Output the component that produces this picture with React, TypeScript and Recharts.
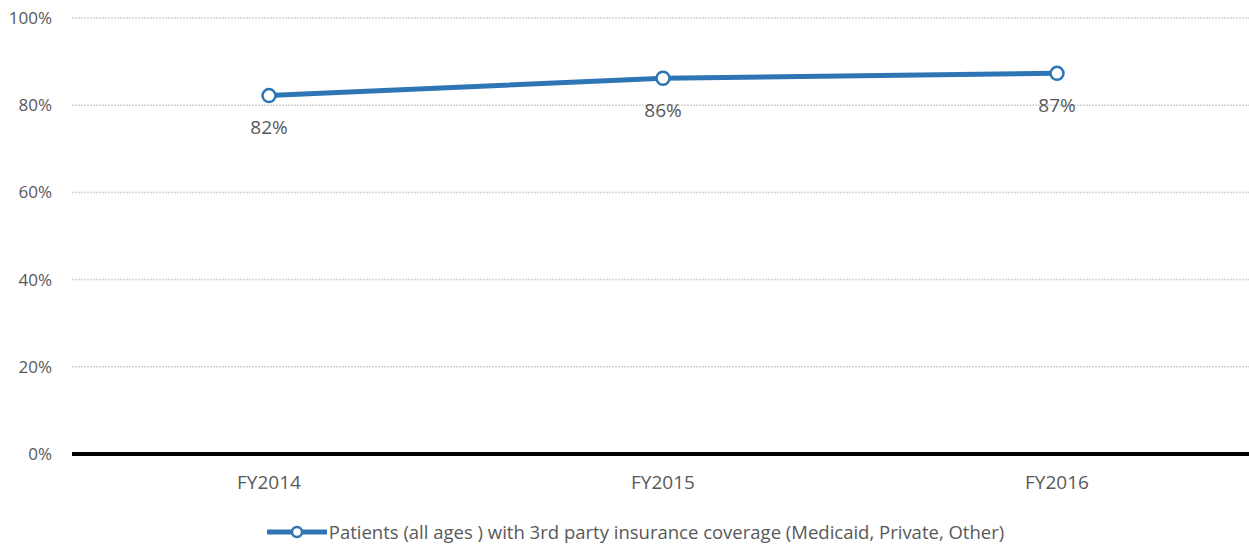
import React from 'react';
import { LineChart, Line, XAxis, YAxis, CartesianGrid, LabelList } from 'recharts';

const years = ['FY2014', 'FY2015', 'FY2016'];
const coverage = [82.2, 86.2, 87.3];
const yTicks = [0, 20, 40, 60, 80, 100];
const seriesName = 'Patients (all ages ) with 3rd party insurance coverage (Medicaid, Private, Other)';

const data = years.map((year, i) => ({ year, coverage: coverage[i] }));

const BLUE = '#2E75B6';
const TEXT = '#595959';
const FONT = '"Open Sans", sans-serif';

const LegendRow = () => (
  <div
    style={{
      position: 'absolute',
      left: 0,
      top: 519,
      width: 1249,
      display: 'flex',
      justifyContent: 'center',
      alignItems: 'center',
      fontFamily: FONT,
      fontSize: 18.5,
      color: TEXT,
    }}
  >
    <svg width={60} height={14} style={{ marginRight: 2, marginLeft: 22 }}>
      <line x1={1} y1={7} x2={59} y2={7} stroke={BLUE} strokeWidth={5} strokeLinecap="round" />
      <circle cx={30} cy={7} r={5} fill="#fff" stroke={BLUE} strokeWidth={2.5} />
    </svg>
    <span>{seriesName}</span>
  </div>
);

export default function App() {
  return (
    <div style={{ position: 'absolute', left: 0, top: 0, width: 1249, height: 546, background: '#fff' }}>
      <LineChart
        width={1249}
        height={546}
        data={data}
        margin={{ top: 18, right: -5, bottom: 62, left: 0 }}
      >
        <CartesianGrid
          vertical={false}
          stroke="#d4d4d4"
          strokeDasharray="2 1"
          strokeWidth={1.5}
        />
        <XAxis
          dataKey="year"
          scale="band"
          axisLine={{ stroke: '#000', strokeWidth: 4 }}
          tickLine={false}
          tickMargin={16}
          tick={{ fill: TEXT, fontSize: 19, fontFamily: FONT }}
        />
        <YAxis
          width={72}
          domain={[0, 100]}
          ticks={yTicks}
          axisLine={false}
          tickLine={false}
          tickMargin={14}
          tickFormatter={(v: number) => `${v}%`}
          tick={{ fill: TEXT, fontSize: 17, fontFamily: FONT }}
        />
        <Line
          type="linear"
          dataKey="coverage"
          stroke={BLUE}
          strokeWidth={5}
          dot={{ r: 6.5, fill: '#fff', stroke: BLUE, strokeWidth: 2.5 }}
          isAnimationActive={false}
        >
          <LabelList
            dataKey="coverage"
            position="bottom"
            offset={25}
            formatter={(v: number) => `${Math.round(v)}%`}
            style={{ fill: TEXT, fontSize: 19, fontFamily: FONT }}
          />
        </Line>
      </LineChart>
      <LegendRow />
    </div>
  );
}
